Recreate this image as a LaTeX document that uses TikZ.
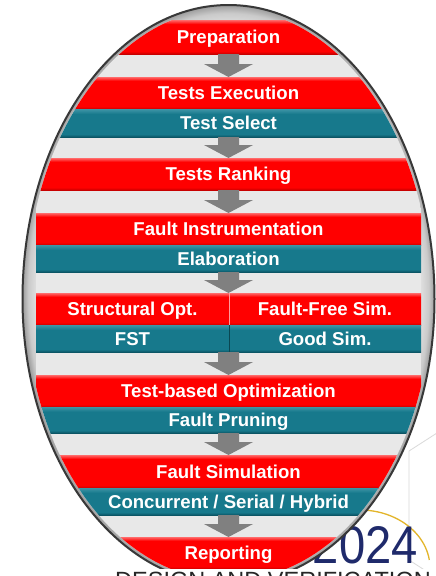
\documentclass[tikz,border=0pt]{standalone}
\usepackage{fontspec}
\setmainfont{Liberation Sans}
\newfontfamily\yearfont[FakeStretch=0.89]{Liberation Sans}
\usetikzlibrary{calc}

\definecolor{rlight}{HTML}{FF6A6A}
\definecolor{rmain}{HTML}{FF0000}
\definecolor{rdark}{HTML}{C80000}
\definecolor{tlight}{HTML}{3F95A6}
\definecolor{tmain}{HTML}{17798C}
\definecolor{tdark}{HTML}{0B5565}
\definecolor{gapgray}{HTML}{E8E8E8}
\definecolor{arrowgray}{HTML}{808080}
\definecolor{rimdark}{HTML}{9C9C9C}
\definecolor{rimmid}{HTML}{CACACA}
\definecolor{rimlight}{HTML}{E6E6E6}
\definecolor{rimedge}{HTML}{383838}
\definecolor{navy}{HTML}{1F2A6B}
\definecolor{gold}{HTML}{E3B52A}
\definecolor{faint}{HTML}{DADADA}
\definecolor{splitlight}{HTML}{FF9A9A}
\definecolor{splitdark}{HTML}{0A4752}

% band fills: dark lower edge, flat body, light upper edge
\pgfdeclareverticalshading{redfill}{100bp}{color(0bp)=(rdark); color(25bp)=(rdark); color(29bp)=(rmain); color(69bp)=(rmain); color(75bp)=(rlight); color(100bp)=(rlight)}
\pgfdeclareverticalshading{tealfill}{100bp}{color(0bp)=(tdark); color(25bp)=(tdark); color(30bp)=(tmain); color(66bp)=(tmain); color(75bp)=(tlight); color(100bp)=(tlight)}
% grey rim just inside the oval outline
\pgfdeclareradialshading{rimfill}{\pgfpoint{0bp}{0bp}}{color(0bp)=(white); color(21bp)=(white); color(23bp)=(rimlight); color(24.3bp)=(rimmid); color(25bp)=(rimdark); color(50bp)=(rimdark)}

\tikzset{
  band/.style={rectangle, inner sep=0pt, outer sep=0pt, text=white,
    font=\fontsize{18.6}{20}\selectfont\bfseries,
    text height=13.3pt, text depth=0pt, shade},
  redband/.style={band, shading=redfill},
  tealband/.style={band, shading=tealfill},
  full/.style={minimum width=385pt},
  lefthalf/.style={minimum width=193pt},
  righthalf/.style={minimum width=192pt},
  arrowfill/.style={fill=arrowgray},
}

% grey block arrow between two bands, on the central axis
\newcommand\blockarrow[2]{%
  \coordinate (ar-top) at (axis |- #1.south);
  \coordinate (ar-tip) at (axis |- #2.north);
  \fill[arrowfill] ($(ar-top)+(-10.5,0)$) -- ($(ar-top)+(10.5,0)$)
    -- ($(ar-tip)+(10.5,13)$) -- ($(ar-tip)+(24.5,13)$) -- (ar-tip)
    -- ($(ar-tip)+(-24.5,13)$) -- ($(ar-tip)+(-10.5,13)$) -- cycle;}

\begin{document}
\begin{tikzpicture}[x=1pt, y=1pt]
  \useasboundingbox (0,0) rectangle (436,-576);
  \fill[white] (0,0) rectangle (436,-576);

  % logo behind the oval
  \draw[faint, line width=0.8pt] (437,-433) -- (409,-451) -- (409,-560) -- (437,-578);
  \draw[gold, line width=1.3pt] (325,-517.77) arc[start angle=120, end angle=8, x radius=70pt, y radius=58pt];
  \node[anchor=base east, text=navy, font=\yearfont\fontsize{53}{53}\selectfont, inner sep=0pt] (year) at (418,-563) {2024};

  % oval with grey rim
  \shade[shading=rimfill] (22.5,-299) arc[start angle=180, end angle=0, x radius=206pt, y radius=294pt]
    arc[start angle=0, end angle=-180, x radius=206pt, y radius=285pt] -- cycle;

  \begin{scope}
    \clip (26,-299) arc[start angle=180, end angle=0, x radius=202.5pt, y radius=290.5pt]
      arc[start angle=0, end angle=-180, x radius=202.5pt, y radius=281.5pt] -- cycle;
    \fill[gapgray] (36,-20) rectangle (421,-580);
    \coordinate (axis) at (228.5,0);

    \node[redband, full, minimum height=34pt] (prep) at (228.5,-37) {Preparation};
    \node[redband, full, minimum height=32pt] (exec) at (228.5,-93) {Tests Execution};
    \node[tealband, full, minimum height=28pt] (select) at (228.5,-123) {Test Select};
    \node[redband, full, minimum height=32pt] (rank) at (228.5,-174) {Tests Ranking};
    \node[redband, full, minimum height=32pt] (instr) at (228.5,-229) {Fault Instrumentation};
    \node[tealband, full, minimum height=27pt] (elab) at (228.5,-258.5) {Elaboration};
    \node[redband, lefthalf, minimum height=32pt] (sopt) at (132.5,-309) {Structural Opt.};
    \node[redband, righthalf, minimum height=32pt] (ffs) at (325,-309) {Fault-Free Sim.};
    \node[tealband, lefthalf, minimum height=27pt] (fst) at (132.5,-338.5) {FST};
    \node[tealband, righthalf, minimum height=27pt] (gsim) at (325,-338.5) {Good Sim.};
    \node[redband, full, minimum height=32pt] (tbo) at (228.5,-391) {Test-based Optimization};
    \node[tealband, full, minimum height=26pt] (prune) at (228.5,-420) {Fault Pruning};
    \node[redband, full, minimum height=33pt] (fsim) at (228.5,-471.5) {Fault Simulation};
    \node[tealband, full, minimum height=27pt] (conc) at (228.5,-501.5) {Concurrent / Serial / Hybrid};
    \node[redband, full, minimum height=32pt] (report) at (228.5,-553) {Reporting};

    % dividers of the split stage
    \draw[splitlight, line width=0.8pt] (sopt.north east) -- (sopt.south east);
    \draw[splitdark, line width=0.8pt] (fst.north east) -- (fst.south east);

    \blockarrow{prep}{exec}
    \blockarrow{select}{rank}
    \blockarrow{rank}{instr}
    \blockarrow{elab}{sopt}
    \blockarrow{fst}{tbo}
    \blockarrow{prune}{fsim}
    \blockarrow{conc}{report}
  \end{scope}

  \draw[rimedge, line width=2pt] (22.5,-299) arc[start angle=180, end angle=0, x radius=206pt, y radius=294pt]
    arc[start angle=0, end angle=-180, x radius=206pt, y radius=285pt] -- cycle;

  % caption strip along the lower edge
  \fill[white] (0,-568.5) rectangle (436,-580);
  \node[anchor=base west, font=\fontsize{23.5}{24}\selectfont, text=black!85, inner sep=0pt] (caption) at (115,-588) {DESIGN AND VERIFICATION};
\end{tikzpicture}
\end{document}
